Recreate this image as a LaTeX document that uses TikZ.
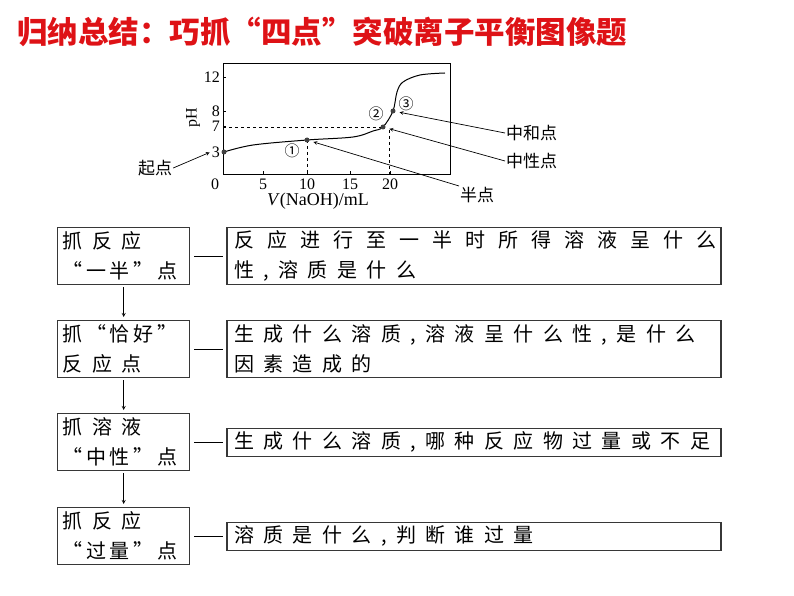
\documentclass[tikz,border=0pt]{standalone}
\usepackage{fontspec}
\setmainfont{Liberation Serif}
\newfontfamily\cjk{Noto Sans CJK SC}
\usepackage{tikz}
\usetikzlibrary{arrows,positioning}
\definecolor{titlered}{RGB}{222,18,22}
\definecolor{framegray}{RGB}{55,55,55}
\newcommand{\tight}[1]{{\addfontfeatures{LetterSpace=18}#1}}

\begin{document}
\begin{tikzpicture}[
    x=1pt, y=-1pt,
    >=stealth,
    lbox/.style={rectangle, draw=framegray, line width=1.4pt, text width=122pt, inner xsep=5pt, inner ysep=0pt, minimum height=57pt, align=left, font=\cjk\fontsize{20}{30}\selectfont\addfontfeatures{LetterSpace=47}},
    rbox/.style={rectangle, draw=framegray, line width=1.4pt, text width=480pt, inner xsep=7pt, inner ysep=0pt, align=left, font=\cjk\fontsize{20}{30}\selectfont\addfontfeatures{LetterSpace=47}},
    link/.style={line width=0.8pt, shorten <=4pt, shorten >=3pt},
    down/.style={->, line width=0.8pt, shorten <=2pt, shorten >=3pt},
    dot/.style={circle, fill=black!75, inner sep=0pt, minimum size=5pt},
    lab/.style={font=\cjk\fontsize{17}{17}\selectfont, inner sep=1pt},
    num/.style={font=\fontsize{16}{16}\selectfont, inner sep=1pt},
    pointer/.style={->, line width=0.7pt, shorten >=4pt}
]
\useasboundingbox (0,0) rectangle (794,596);

% Title
\node[anchor=west, inner sep=0pt, text=titlered, font=\cjk\bfseries\fontsize{30.5}{30.5}\selectfont] (title) at (17,32) {归纳总结：巧抓“四点”突破离子平衡图像题};

% Titration curve
\draw[line width=0.8pt] (223,63) rectangle (450,174);
\foreach \tx in {263,307,350,390} \draw[line width=0.6pt] (\tx,174) -- (\tx,171);
\foreach \ty in {77,111,126,152} \draw[line width=0.6pt] (223,\ty) -- (226,\ty);

\node[num] at (215,184) {0};
\node[num] at (263,184) {5};
\node[num] at (307,184) {10};
\node[num] at (350,184) {15};
\node[num] at (390,184) {20};
\node[num, anchor=east] at (221,77) {12};
\node[num, anchor=east] at (221,111) {8};
\node[num, anchor=east] at (221,126) {7};
\node[num, anchor=east] (t3) at (221,152) {3};
\node[num, rotate=90] at (193,118) {pH};
\node[num, font=\fontsize{18}{18}\selectfont] at (318,201) {\textit{V}(NaOH)/mL};

\draw[dashed, line width=0.7pt] (223,127) -- (383,127);
\draw[dashed, line width=0.7pt] (307,140) -- (307,174);
\draw[dashed, line width=0.7pt] (389,130) -- (389,174);

\draw[line width=1pt] plot[smooth, tension=0.55] coordinates {(224,152) (253,145) (307,140) (353,137) (373,131) (383,127) (393,111) (397,92) (403,82) (420,75) (445,73)};

\node[dot] (p0) at (224,152) {};
\node[dot] (p1) at (307,140) {};
\node[dot] (p2) at (383,127) {};
\node[dot] (p3) at (393,111) {};
\node[lab, font=\cjk\fontsize{15}{15}\selectfont] (c1) at (292,151) {①};
\node[lab, font=\cjk\fontsize{15}{15}\selectfont] (c2) at (376,114) {②};
\node[lab, font=\cjk\fontsize{15}{15}\selectfont] (c3) at (406,104) {③};

\node[lab] (qidian) at (155,168) {起点};
\node[lab, anchor=west] (zhonghe) at (505,133) {中和点};
\node[lab, anchor=west] (zhongxing) at (505,161) {中性点};
\node[lab, anchor=west] (bandian) at (459,195) {半点};

\draw[pointer, shorten >=1pt] (qidian.east) -- (t3.west);
\draw[pointer] (zhonghe.west) -- (p3);
\draw[pointer] (zhongxing.west) -- (p2);
\draw[pointer] (bandian.north west) -- (p1);

% Left column: the four points
\node[lbox, anchor=north west] (grab1) at (57,227) {抓反应\\\tight{“一半”点}};
\node[lbox, anchor=north west] (grab2) at (57,320) {\tight{抓“恰好”}\\反应点};
\node[lbox, anchor=north west] (grab3) at (57,413) {抓溶液\\\tight{“中性”点}};
\node[lbox, anchor=north west] (grab4) at (57,507) {抓反应\\\tight{“过量”点}};

% Right column: what to ask
\node[rbox, minimum height=57pt, right=36pt of grab1] (ask1) {{\addfontfeatures{LetterSpace=65}反应进行至一半时所得溶液呈什么}\\性,溶质是什么};
\node[rbox, minimum height=57pt, right=36pt of grab2] (ask2) {生成什么溶质,溶液呈什么性,是什么\\因素造成的};
\node[rbox, minimum height=28pt, right=36pt of grab3] (ask3) {生成什么溶质,哪种反应物过量或不足};
\node[rbox, minimum height=28pt, right=36pt of grab4] (ask4) {溶质是什么,判断谁过量};

\draw[down] (grab1) -- (grab2);
\draw[down] (grab2) -- (grab3);
\draw[down] (grab3) -- (grab4);

\foreach \i in {1,...,4} \draw[link] (grab\i) -- (ask\i);

\end{tikzpicture}
\end{document}
